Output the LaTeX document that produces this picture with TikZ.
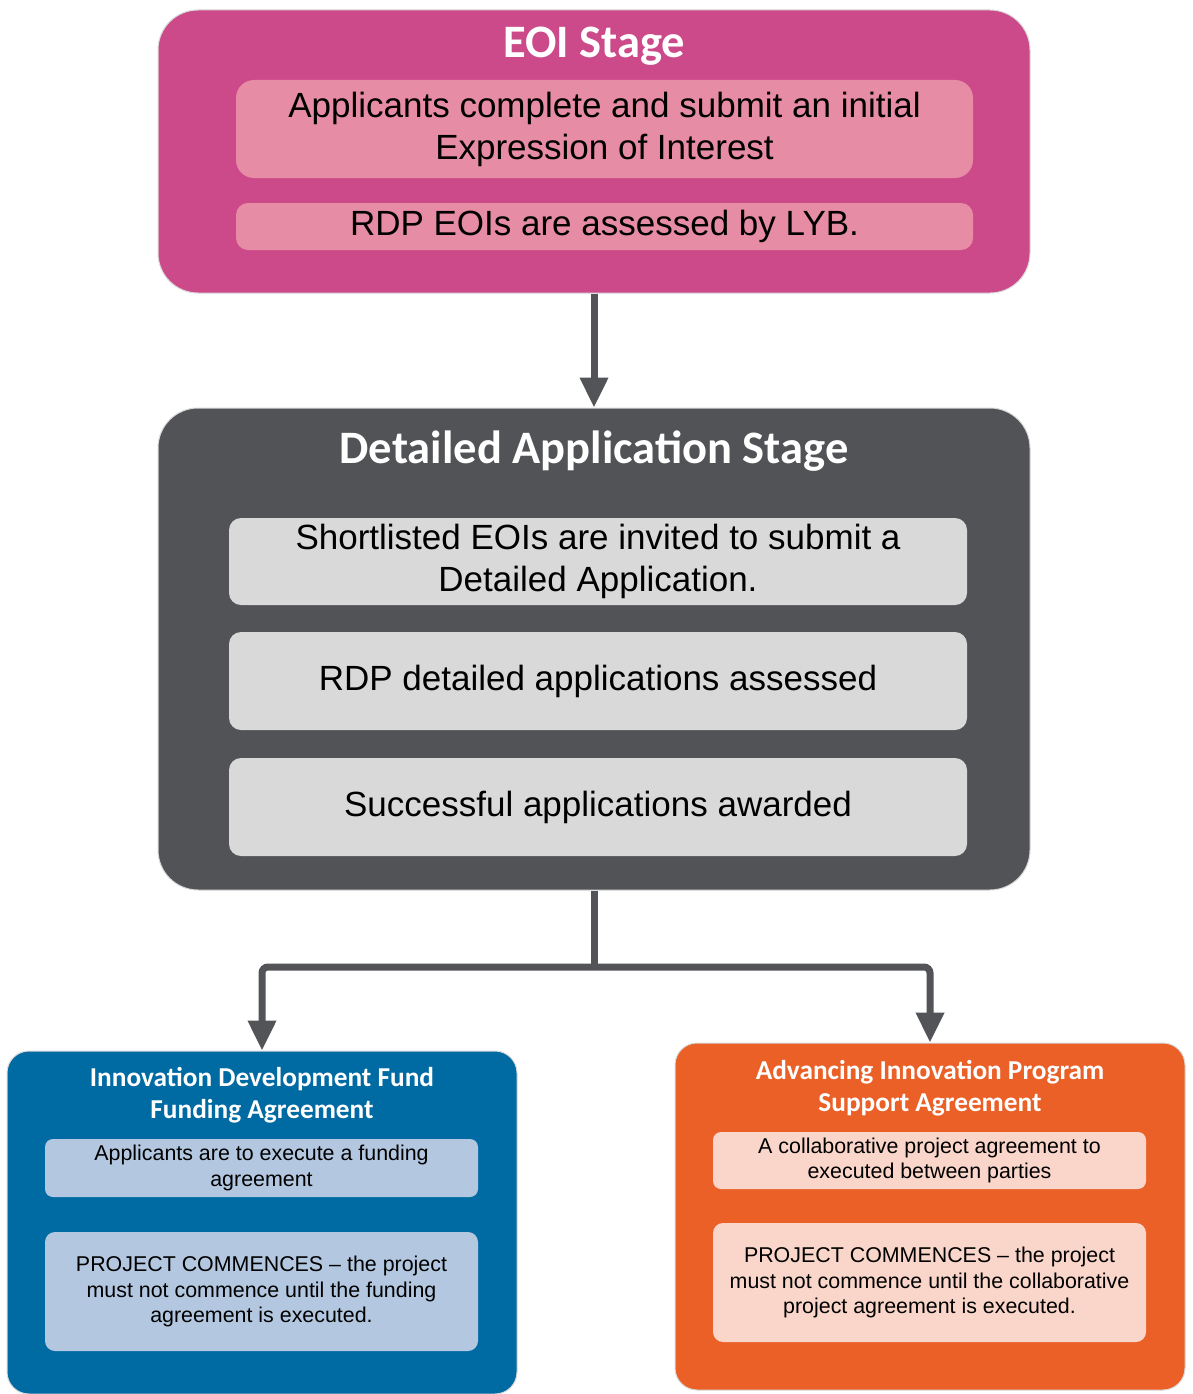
\documentclass[tikz,border=0pt]{standalone}
\usepackage{fontspec}
\setmainfont{Liberation Sans}
\newfontfamily\titlefont{Carlito}
\usetikzlibrary{arrows.meta}
\definecolor{eoipink}{RGB}{204,74,138}
\definecolor{eoilight}{RGB}{230,140,165}
\definecolor{dasgray}{RGB}{82,83,86}
\definecolor{daslight}{RGB}{217,217,217}
\definecolor{idfblue}{RGB}{0,106,162}
\definecolor{idflight}{RGB}{179,200,224}
\definecolor{aiporange}{RGB}{234,96,39}
\definecolor{aiplight}{RGB}{249,214,201}
\definecolor{arrowgray}{RGB}{83,84,87}
\tikzset{
  outerbox/.style={draw=black!15, line width=1pt, rounded corners=40pt, inner sep=0pt},
  innerbox/.style={rounded corners=18pt, inner sep=0pt, align=center, text=black},
  smallbox/.style={rounded corners=10pt, inner sep=0pt, align=center, text=black},
  bigtitle/.style={text=white, font=\titlefont\bfseries\fontsize{46.5}{52}\selectfont, inner sep=0pt},
  smalltitle/.style={text=white, font=\titlefont\bfseries\fontsize{27.3}{32.5}\selectfont, inner sep=0pt, align=center},
  bigtext/.style={font=\fontsize{35}{42}\selectfont},
  smalltext/.style={font=\fontsize{21.4}{25.7}\selectfont},
  conn/.style={draw=arrowgray, line width=7pt, rounded corners=6pt},
  tip/.style={-{Triangle[width=27pt,length=30pt]}}
}
\begin{document}
\begin{tikzpicture}[x=1pt,y=-1pt]
\useasboundingbox (0,0) rectangle (1192,1394);
% EOI stage
\node[outerbox, fill=eoipink, minimum width=872pt, minimum height=283pt] (eoi) at (594,151.5) {};
\node[bigtitle] (eoit) at (594,46) {EOI Stage};
\node[innerbox, bigtext, fill=eoilight, minimum width=737pt, minimum height=98pt] (eoia) at (604.5,129) {Applicants complete and submit an initial\\Expression of Interest};
\node[innerbox, bigtext, fill=eoilight, rounded corners=12pt, minimum width=737pt, minimum height=47pt] (eoib) at (604.5,226.5) {RDP EOIs are assessed by LYB.};
% Detailed application stage
\node[outerbox, fill=dasgray, minimum width=872pt, minimum height=482pt] (das) at (594,649) {};
\node[bigtitle] (dast) at (594,451) {Detailed Application Stage};
\node[innerbox, bigtext, fill=daslight, rounded corners=12pt, minimum width=738pt, minimum height=87pt] (dasa) at (598,561.5) {Shortlisted EOIs are invited to submit a\\Detailed Application.};
\node[innerbox, bigtext, fill=daslight, rounded corners=12pt, minimum width=738pt, minimum height=98pt] (dasb) at (598,681) {RDP detailed applications assessed};
\node[innerbox, bigtext, fill=daslight, rounded corners=12pt, minimum width=738pt, minimum height=98pt] (dasc) at (598,807) {Successful applications awarded};
% IDF box
\node[outerbox, fill=idfblue, rounded corners=22pt, minimum width=510pt, minimum height=343pt] (idf) at (262,1222.5) {};
\node[smalltitle] (idft) at (262,1095) {Innovation Development Fund\\Funding Agreement};
\node[smallbox, smalltext, fill=idflight, rounded corners=8pt, minimum width=433pt, minimum height=58pt] (idfa) at (261.5,1168) {Applicants are to execute a funding\\agreement};
\node[smallbox, smalltext, fill=idflight, minimum width=433pt, minimum height=119pt] (idfb) at (261.5,1291.5) {PROJECT COMMENCES -- the project\\must not commence until the funding\\agreement is executed.};
% AIP box
\node[outerbox, fill=aiporange, rounded corners=22pt, minimum width=510pt, minimum height=347pt] (aip) at (930,1216.5) {};
\node[smalltitle] (aipt) at (930,1088) {Advancing Innovation Program\\Support Agreement};
\node[smallbox, smalltext, fill=aiplight, rounded corners=8pt, minimum width=433pt, minimum height=57pt] (aipa) at (929.5,1160.5) {A collaborative project agreement to\\executed between parties};
\node[smallbox, smalltext, fill=aiplight, minimum width=433pt, minimum height=119pt] (aipb) at (929.5,1282.5) {PROJECT COMMENCES -- the project\\must not commence until the collaborative\\project agreement is executed.};
% connectors
\coordinate (split) at (594,967);
\draw[conn, tip] (eoi.south) -- (das.north);
\draw[conn] (das.south) -- (split);
\draw[conn, tip] (split) -| (idf.north);
\draw[conn, tip] (split) -| (aip.north);
\end{tikzpicture}
\end{document}
